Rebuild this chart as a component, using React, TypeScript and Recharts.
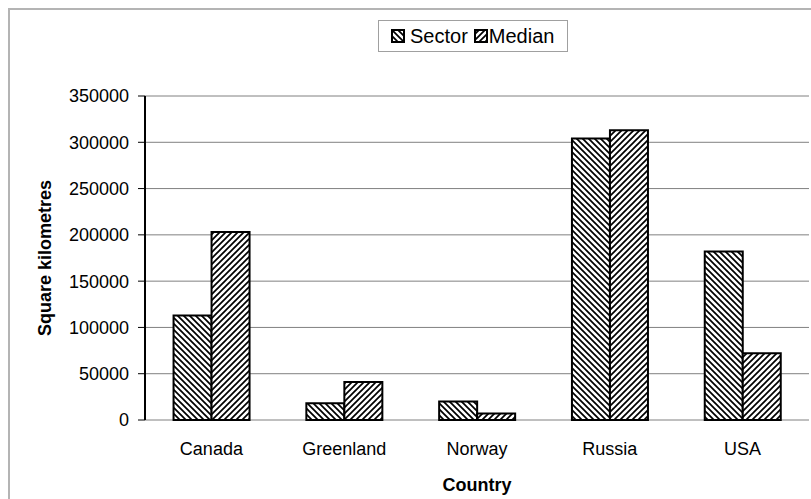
import React from 'react';
import {
  BarChart,
  Bar,
  XAxis,
  YAxis,
  CartesianGrid,
  Legend,
} from 'recharts';

// Sea area per country, square kilometres
const COUNTRIES = ['Canada', 'Greenland', 'Norway', 'Russia', 'USA'];
const SECTOR = [113000, 18000, 20000, 304000, 182000];
const MEDIAN = [203000, 41000, 7000, 313000, 72000];
const Y_TICKS = [0, 50000, 100000, 150000, 200000, 250000, 300000, 350000];
const BOUNDARY_TICKS = [0, 1, 2, 3, 4, 5];

const chartData = COUNTRIES.map((country, i) => ({
  country,
  sector: SECTOR[i],
  median: MEDIAN[i],
}));

const FONT = '"Liberation Sans", Arial, sans-serif';

// hatch fills shared by the bars and the legend swatches
const Patterns = () => (
  <svg width={0} height={0} style={{ position: 'absolute' }}>
    <defs>
      <pattern id="hatchBack" patternUnits="userSpaceOnUse" width={6} height={6}>
        <rect width={6} height={6} fill="#fff" />
        <path d="M0,0 L6,6 M-1,5 L1,7 M5,-1 L7,1" stroke="#000" strokeWidth={1.7} />
      </pattern>
      <pattern id="hatchFwd" patternUnits="userSpaceOnUse" width={6} height={6}>
        <rect width={6} height={6} fill="#fff" />
        <path d="M0,6 L6,0 M-1,1 L1,-1 M5,7 L7,5" stroke="#000" strokeWidth={1.7} />
      </pattern>
    </defs>
  </svg>
);

const Swatch = ({ fill }: { fill: string }) => (
  <svg width={14} height={14} style={{ display: 'block' }}>
    <rect x={1} y={1} width={12} height={12} fill={fill} stroke="#000" strokeWidth={2} />
  </svg>
);

const LegendBox = () => (
  <div
    style={{
      display: 'flex',
      alignItems: 'center',
      border: '1px solid #a0a0a0',
      background: '#fff',
      height: 32,
      padding: '0 13px 0 12px',
      fontFamily: FONT,
      fontSize: 20,
      color: '#000',
      boxSizing: 'border-box',
      whiteSpace: 'nowrap',
    }}
  >
    <Swatch fill="url(#hatchBack)" />
    <span style={{ marginLeft: 5, marginRight: 6 }}>Sector</span>
    <Swatch fill="url(#hatchFwd)" />
    <span style={{ marginLeft: 1 }}>Median</span>
  </div>
);

const YLabel = ({ viewBox }: any) => {
  const cx = viewBox.x + 35;
  const cy = viewBox.y + viewBox.height / 2;
  return (
    <text
      x={cx}
      y={cy}
      transform={`rotate(-90 ${cx} ${cy})`}
      textAnchor="middle"
      dominantBaseline="central"
      fontFamily={FONT}
      fontSize={18}
      fontWeight="bold"
      fill="#000"
    >
      Square kilometres
    </text>
  );
};

const XLabel = ({ viewBox }: any) => (
  <text
    x={viewBox.x + viewBox.width / 2}
    y={viewBox.y + 65}
    textAnchor="middle"
    dominantBaseline="central"
    fontFamily={FONT}
    fontSize={18}
    fontWeight="bold"
    fill="#000"
  >
    Country
  </text>
);

export default function App() {
  return (
    <div
      style={{
        position: 'fixed',
        left: 0,
        top: 0,
        width: 811,
        height: 499,
        overflow: 'hidden',
        background: '#fff',
      }}
    >
      <style>{'html, body { margin: 0; overflow: hidden; }'}</style>
      <Patterns />
      <div
        style={{
          position: 'absolute',
          left: 8,
          top: 8,
          width: 801,
          height: 489,
          borderLeft: '2px solid #b4b4b4',
          borderTop: '2px solid #b4b4b4',
        }}
      >
        <BarChart
          width={801}
          height={489}
          data={chartData}
          margin={{ top: 86, right: 2, left: 0, bottom: 0 }}
          barCategoryGap="21.5%"
          barGap={0}
        >
          <CartesianGrid vertical={false} stroke="#808080" strokeWidth={1} />

          {/* category boundary ticks */}
          <XAxis
            xAxisId="bounds"
            type="number"
            domain={[0, 5]}
            ticks={BOUNDARY_TICKS}
            height={0}
            tick={false}
            tickSize={6}
            tickLine={{ stroke: '#000', strokeWidth: 1 }}
            axisLine={{ stroke: '#000', strokeWidth: 2 }}
          />
          <XAxis
            dataKey="country"
            height={79}
            tickLine={false}
            axisLine={false}
            tickSize={0}
            tickMargin={22}
            tick={{ fill: '#000', fontSize: 18, fontFamily: FONT }}
            label={<XLabel />}
          />
          <XAxis
            xAxisId="top"
            orientation="top"
            dataKey="country"
            height={0}
            tick={false}
            tickLine={false}
            axisLine={{ stroke: '#000', strokeWidth: 2 }}
          />
          <YAxis
            domain={[0, 350000]}
            ticks={Y_TICKS}
            interval={0}
            width={135}
            tickSize={7}
            tickMargin={9}
            tickLine={{ stroke: '#000', strokeWidth: 1 }}
            axisLine={{ stroke: '#000', strokeWidth: 2 }}
            tick={{ fill: '#000', fontSize: 18, fontFamily: FONT }}
            label={<YLabel />}
          />
          <YAxis
            yAxisId="right"
            orientation="right"
            domain={[0, 350000]}
            width={0}
            tick={false}
            tickLine={false}
            axisLine={{ stroke: '#000', strokeWidth: 2 }}
          />

          <Legend
            verticalAlign="middle"
            content={<LegendBox />}
            wrapperStyle={{ top: 10, left: 368, width: 'auto', height: 32 }}
          />

          <Bar
            dataKey="sector"
            name="Sector"
            fill="url(#hatchBack)"
            stroke="#000"
            strokeWidth={2}
            isAnimationActive={false}
          />
          <Bar
            dataKey="median"
            name="Median"
            fill="url(#hatchFwd)"
            stroke="#000"
            strokeWidth={2}
            isAnimationActive={false}
          />
        </BarChart>
      </div>
    </div>
  );
}
